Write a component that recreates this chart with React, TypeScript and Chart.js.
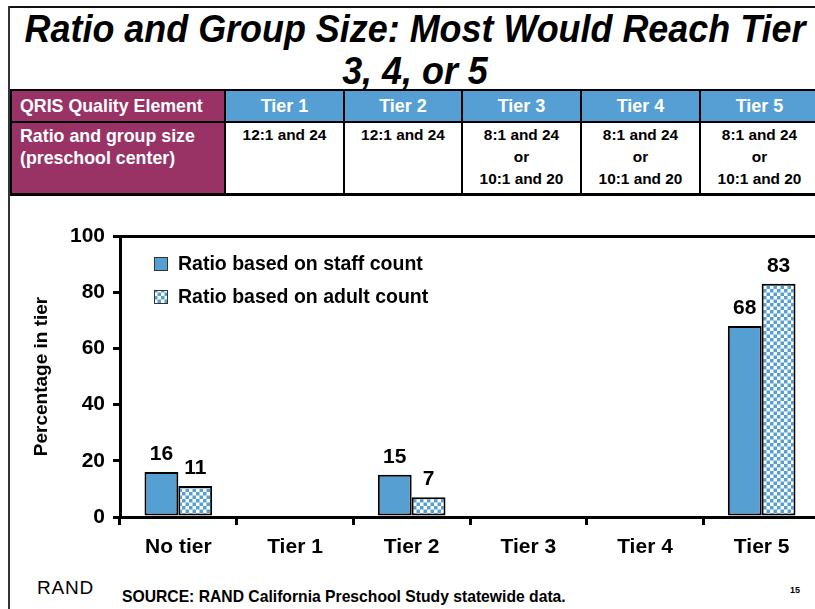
import React, { useEffect, useRef } from "react";
import { Chart, registerables } from "chart.js";
Chart.register(...registerables);

const categories = ["No tier", "Tier 1", "Tier 2", "Tier 3", "Tier 4", "Tier 5"];
const staffValues: (number | null)[] = [16, null, 15, null, null, 68];
const adultValues: (number | null)[] = [11, null, 7, null, null, 83];
const seriesLabels = ["Ratio based on staff count", "Ratio based on adult count"];
const yMin = 0;
const yMax = 100;
const yStep = 20;
const yTitle = "Percentage in tier";

const titleLines = ["Ratio and Group Size: Most Would Reach Tier", "3, 4, or 5"];
const tableHeaderLabel = "QRIS Quality Element";
const tableTiers = ["Tier 1", "Tier 2", "Tier 3", "Tier 4", "Tier 5"];
const tableRowLabel = ["Ratio and group size", "(preschool center)"];
const tableCells = [
  ["12:1 and 24"],
  ["12:1 and 24"],
  ["8:1 and 24", "or", "10:1 and 20"],
  ["8:1 and 24", "or", "10:1 and 20"],
  ["8:1 and 24", "or", "10:1 and 20"],
];
const sourceText = "SOURCE: RAND California Preschool Study statewide data.";
const pageNumber = "15";

const BLUE = "#559FD3";
const HEADER_BLUE = "#559FD4";
const PLUM = "#993366";
const FONT = "'Liberation Sans', Arial, Helvetica, sans-serif";

const colX = [10, 224, 343, 461, 580, 699, 818];
const rowY = [89, 121, 193];

function makePattern(): CanvasPattern | string {
  const c = document.createElement("canvas");
  c.width = 7;
  c.height = 7;
  const g = c.getContext("2d");
  if (!g) return BLUE;
  g.fillStyle = "#ffffff";
  g.fillRect(0, 0, 7, 7);
  g.fillStyle = BLUE;
  g.fillRect(0, 0, 3.5, 3.5);
  g.fillRect(3.5, 3.5, 3.5, 3.5);
  const p = g.createPattern(c, "repeat");
  return p || BLUE;
}

export default function App() {
  const ref = useRef<HTMLCanvasElement | null>(null);

  useEffect(() => {
    document.body.style.margin = "0";
    const canvas = ref.current;
    if (!canvas) return;
    const pattern = makePattern();

    const labelPlugin = {
      id: "valueLabels",
      afterDatasetsDraw(chart: any) {
        const ctx = chart.ctx;
        ctx.save();
        ctx.fillStyle = "#000";
        ctx.font = `bold 21px ${FONT}`;
        ctx.textAlign = "center";
        ctx.textBaseline = "alphabetic";
        chart.data.datasets.forEach((ds: any, i: number) => {
          const meta = chart.getDatasetMeta(i);
          meta.data.forEach((el: any, j: number) => {
            const v = ds.data[j];
            if (v === null || v === undefined) return;
            ctx.fillText(String(v), el.x, el.y - 12);
          });
        });
        ctx.restore();
      },
    };

    const legendPlugin = {
      id: "customLegend",
      afterDraw(chart: any) {
        const ctx = chart.ctx;
        const area = chart.chartArea;
        ctx.save();
        const sx = area.left + 34;
        const rows = [area.top + 28, area.top + 61];
        chart.data.datasets.forEach((ds: any, i: number) => {
          const cy = rows[i];
          ctx.fillStyle = ds.backgroundColor;
          ctx.fillRect(sx, cy - 7, 14, 14);
          ctx.lineWidth = 1;
          ctx.strokeStyle = "#333";
          ctx.strokeRect(sx + 0.5, cy - 6.5, 13, 13);
          ctx.fillStyle = "#000";
          ctx.font = `bold 19.5px ${FONT}`;
          ctx.textAlign = "left";
          ctx.textBaseline = "middle";
          ctx.fillText(ds.label, sx + 24, cy + 1);
        });
        // y axis title
        ctx.translate(42, (area.top + area.bottom) / 2);
        ctx.rotate(-Math.PI / 2);
        ctx.font = `bold 19px ${FONT}`;
        ctx.textAlign = "center";
        ctx.textBaseline = "middle";
        ctx.fillStyle = "#000";
        ctx.fillText(yTitle, 0, 0);
        ctx.restore();
      },
    };

    const chart = new Chart(canvas, {
      type: "bar",
      data: {
        labels: categories,
        datasets: [
          {
            label: seriesLabels[0],
            data: staffValues,
            backgroundColor: BLUE,
            borderColor: "#000",
            borderWidth: 2,
            borderSkipped: false,
            barPercentage: 1,
            categoryPercentage: 0.58,
          },
          {
            label: seriesLabels[1],
            data: adultValues,
            backgroundColor: pattern as any,
            borderColor: "#000",
            borderWidth: 2,
            borderSkipped: false,
            barPercentage: 1,
            categoryPercentage: 0.58,
          },
        ],
      },
      options: {
        responsive: false,
        animation: false,
        devicePixelRatio: window.devicePixelRatio || 1,
        layout: { padding: { top: 31, right: 10, left: 0, bottom: 0 } },
        plugins: {
          legend: { display: false },
          tooltip: { enabled: false },
          title: { display: false },
        },
        scales: {
          x: {
            afterFit: (s: any) => {
              s.height = 58;
            },
            border: { display: true, color: "#000", width: 3 },
            grid: {
              display: true,
              offset: true,
              drawOnChartArea: false,
              drawTicks: true,
              tickLength: 8,
              color: "#000",
              lineWidth: 3,
            },
            ticks: {
              color: "#000",
              font: { family: FONT, size: 21, weight: "bold" },
              padding: 10,
              maxRotation: 0,
            },
          },
          y: {
            min: yMin,
            max: yMax,
            afterFit: (s: any) => {
              s.width = 120;
            },
            border: { display: true, color: "#000", width: 3 },
            grid: {
              display: true,
              drawOnChartArea: true,
              drawTicks: true,
              tickLength: 7,
              color: (c: any) => (c.tick && c.tick.value === yMax ? "#000" : "rgba(0,0,0,0)"),
              tickColor: "#000",
              lineWidth: 3,
            },
            ticks: {
              stepSize: yStep,
              color: "#000",
              font: { family: FONT, size: 21, weight: "bold" },
              padding: 8,
            },
          },
        },
      },
      plugins: [labelPlugin, legendPlugin],
    } as any);

    return () => {
      chart.destroy();
    };
  }, []);

  const cells: React.ReactNode[] = [];
  cells.push(
    <div
      key="h0"
      style={{
        position: "absolute",
        left: colX[0],
        top: rowY[0],
        width: colX[1] - colX[0] + 2,
        height: rowY[1] - rowY[0] + 2,
        boxSizing: "border-box",
        border: "2px solid #000",
        background: PLUM,
        color: "#fff",
        fontWeight: "bold",
        fontSize: 17.8,
        display: "flex",
        alignItems: "center",
        paddingLeft: 8,
      }}
    >
      {tableHeaderLabel}
    </div>
  );
  tableTiers.forEach((t, i) => {
    cells.push(
      <div
        key={"h" + (i + 1)}
        style={{
          position: "absolute",
          left: colX[i + 1],
          top: rowY[0],
          width: colX[i + 2] - colX[i + 1] + 2,
          height: rowY[1] - rowY[0] + 2,
          boxSizing: "border-box",
          border: "2px solid #000",
          background: HEADER_BLUE,
          color: "#fff",
          fontWeight: "bold",
          fontSize: 18,
          display: "flex",
          alignItems: "center",
          justifyContent: "center",
        }}
      >
        {t}
      </div>
    );
  });
  cells.push(
    <div
      key="r0"
      style={{
        position: "absolute",
        left: colX[0],
        top: rowY[1],
        width: colX[1] - colX[0] + 2,
        height: rowY[2] - rowY[1] + 3,
        boxSizing: "border-box",
        border: "2px solid #000",
        borderBottomWidth: 3,
        background: PLUM,
        color: "#fff",
        fontWeight: "bold",
        fontSize: 17.8,
      }}
    >
      <div style={{ position: "absolute", left: 8, top: 3, lineHeight: "21.5px", whiteSpace: "nowrap" }}>
        {tableRowLabel.map((l, k) => (
          <div key={k}>{l}</div>
        ))}
      </div>
    </div>
  );
  tableCells.forEach((lines, i) => {
    cells.push(
      <div
        key={"r" + (i + 1)}
        style={{
          position: "absolute",
          left: colX[i + 1],
          top: rowY[1],
          width: colX[i + 2] - colX[i + 1] + 2,
          height: rowY[2] - rowY[1] + 3,
          boxSizing: "border-box",
          border: "2px solid #000",
          borderBottomWidth: 3,
          background: "#fff",
          color: "#000",
          fontWeight: "bold",
          fontSize: 15.4,
        }}
      >
        <div style={{ position: "absolute", left: 0, right: 0, top: 1, lineHeight: "22px", textAlign: "center", whiteSpace: "nowrap" }}>
          {lines.map((l, k) => (
            <div key={k}>{l}</div>
          ))}
        </div>
      </div>
    );
  });

  return (
    <div
      style={{
        position: "relative",
        width: 815,
        height: 609,
        overflow: "hidden",
        background: "#fff",
        fontFamily: FONT,
      }}
    >
      <div style={{ position: "absolute", left: 8, top: 6, width: 820, height: 2, background: "#111" }} />
      <div style={{ position: "absolute", left: 8, top: 6, width: 1.5, height: 610, background: "#333" }} />

      {titleLines.map((t, i) => (
        <div
          key={i}
          style={{
            position: "absolute",
            left: 0,
            width: 830,
            top: i === 0 ? 10 : 52,
            textAlign: "center",
            fontSize: 38,
            lineHeight: "38px",
            fontWeight: "bold",
            fontStyle: "italic",
            color: "#000",
            whiteSpace: "nowrap",
            transform: "scaleX(0.945)",
            transformOrigin: "415px 0",
          }}
        >
          {t}
        </div>
      ))}

      {cells}

      <canvas
        ref={ref}
        width={830}
        height={370}
        style={{ position: "absolute", left: 0, top: 205, width: 830, height: 370 }}
      />

      <div
        style={{
          position: "absolute",
          left: 37,
          top: 578,
          fontSize: 19,
          lineHeight: "20px",
          letterSpacing: 0.8,
          color: "#000",
          fontFamily: FONT,
          fontWeight: "normal",
        }}
      >
        RAND
      </div>
      <div
        style={{
          position: "absolute",
          left: 122,
          top: 589,
          fontSize: 15.7,
          lineHeight: "16px",
          fontWeight: "bold",
          color: "#000",
          whiteSpace: "nowrap",
        }}
      >
        {sourceText}
      </div>
      <div
        style={{
          position: "absolute",
          left: 790,
          top: 585,
          fontSize: 9,
          lineHeight: "10px",
          fontWeight: "bold",
          color: "#000",
        }}
      >
        {pageNumber}
      </div>
    </div>
  );
}
